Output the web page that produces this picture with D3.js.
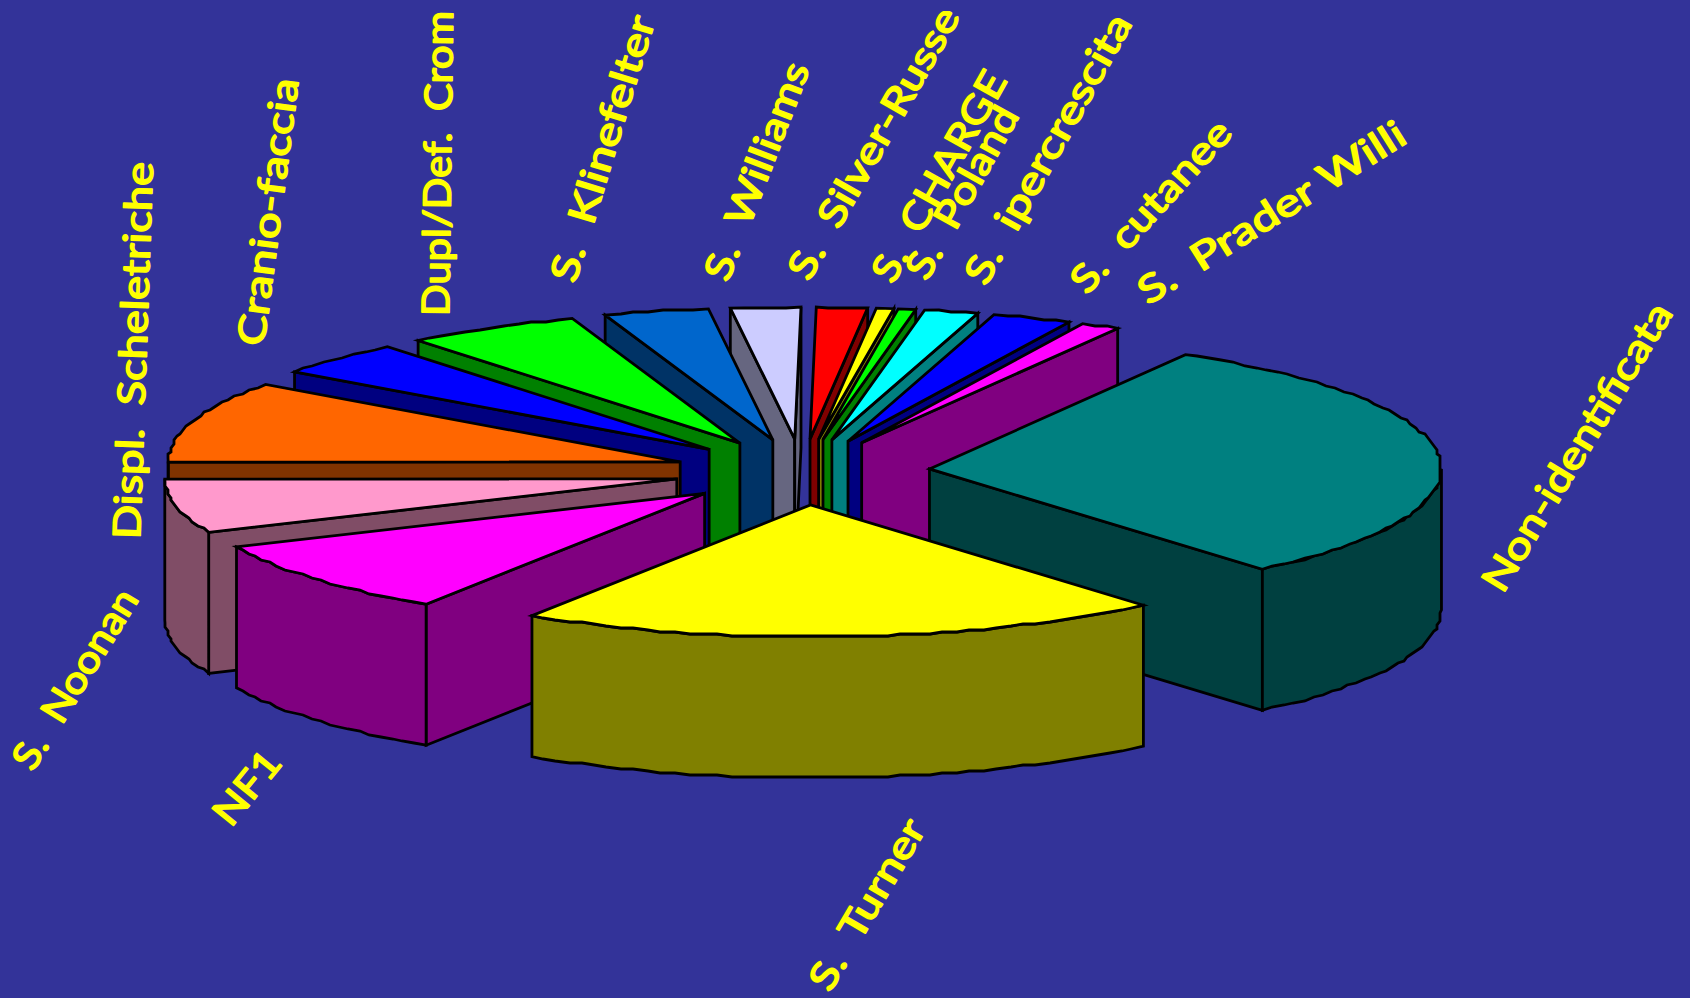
<!DOCTYPE html>
<html>
<head>
<meta charset="utf-8">
<script src="https://cdn.jsdelivr.net/npm/d3@7/dist/d3.min.js"></script>
<style>
  html, body { margin: 0; padding: 0; background: #333399; overflow: hidden; }
  svg { display: block; }
  text { white-space: pre; }
</style>
</head>
<body>
<svg id="chart" width="1690" height="998"></svg>
<script>
// Categories in clockwise order, starting at the largest slice.
const categories = [
  "Non-identificata", "S.  Turner", "NF1", "S.  Noonan", "Displ.  Scheletriche",
  "Cranio-faccia", "Dupl/Def.  Crom", "S.  Klinefelter", "S.  Williams",
  "S.  Silver-Russe", "S.  CHARGE", "S.  Poland", "S.  ipercrescita",
  "S.  cutanee", "S.  Prader Willi"
];
// Share of cases, percent.
const shares = [30.37, 20.4, 9.2, 6.6, 10.0, 4.2, 5.5, 3.3, 2.2, 1.6, 0.55, 0.55, 1.7, 2.5, 1.23];

const topColors = ["#008080", "#ffff00", "#ff00ff", "#ff99cc", "#ff6600", "#0000ff", "#00ff00",
  "#0066cc", "#ccccff", "#ff0000", "#ffff00", "#00ff00", "#00ffff", "#0000ff", "#ff00ff"];
const wallColors = ["#004040", "#808000", "#800080", "#804d66", "#803300", "#000080", "#008000",
  "#003366", "#666680", "#800000", "#808000", "#008000", "#008080", "#000080", "#800080"];

// Label baselines, running from first to last character: x1, y1, x2, y2.
const labelPaths = [
  [1490, 587, 1661, 305], [817, 986, 914, 821], [219, 819, 272, 754], [20, 765, 127, 591],
  [125, 539, 138, 162], [249, 345, 284, 78], [434, 316, 438, 11], [561, 280, 641, 16],
  [714, 278, 796, 63], [796, 275, 948, 9], [880, 278, 995, 73], [914, 275, 1007, 108],
  [973, 280, 1120, 16], [1076, 286, 1223, 124], [1140, 293, 1401, 129]
];

const width = 1690, height = 998;
const svg = d3.select("#chart");
svg.append("rect").attr("width", width).attr("height", height).attr("fill", "#333399");

// Tilted pie: a unit circle mapped onto an ellipse, extruded downward.
const cx = 802, cy = 472, depth = 141, explode = 0.25;
const sx = d3.scaleLinear().domain([-1, 1]).range([cx - 512, cx + 512]);
const sy = d3.scaleLinear().domain([-1, 1]).range([cy - 132, cy + 132]);

const startAngle = 30 * Math.PI / 180;
const arcs = d3.pie().sort(null).value(d => d)
  .startAngle(startAngle).endAngle(startAngle + 2 * Math.PI)(shares);

const line = d3.line();
const stepAngle = 1.6 * Math.PI / 180;
const snap = (v, g) => Math.round(v / g) * g;

function slicePaths(d) {
  const mid = (d.startAngle + d.endAngle) / 2;
  const ox = Math.sin(mid) * explode, oy = -Math.cos(mid) * explode;
  const at = a => [sx(ox + Math.sin(a)), sy(oy - Math.cos(a))];
  // Outer rim sampled coarsely on a small grid, giving a slightly rough edge.
  const rim = (a0, a1) => {
    const n = Math.max(1, Math.round((a1 - a0) / stepAngle));
    return d3.range(n + 1).map(i => {
      const p = at(a0 + (a1 - a0) * i / n);
      return (i === 0 || i === n) ? p : [snap(p[0], 3), snap(p[1], 2)];
    });
  };
  const down = p => [p[0], p[1] + depth];
  const apex = [sx(ox), sy(oy)];
  const radialWall = a => {
    const p = at(a);
    return line([apex, p, down(p), down(apex)]) + "Z";
  };
  const out = { top: line([apex, ...rim(d.startAngle, d.endAngle)]) + "Z", walls: [] };
  if (Math.sin(d.startAngle) < 0) out.walls.push(radialWall(d.startAngle));
  if (Math.sin(d.endAngle) > 0) out.walls.push(radialWall(d.endAngle));
  const a0 = Math.max(d.startAngle, Math.PI / 2), a1 = Math.min(d.endAngle, 3 * Math.PI / 2);
  if (a1 > a0) {
    const r = rim(a0, a1);
    out.walls.push(line([...r, ...r.slice().reverse().map(down)]) + "Z");
  }
  return out;
}

// Back slices are painted first so nearer ones cover them.
const order = arcs.slice().sort((a, b) =>
  -Math.cos((a.startAngle + a.endAngle) / 2) + Math.cos((b.startAngle + b.endAngle) / 2));

const slices = svg.append("g").attr("stroke", "#000").attr("stroke-width", 2.8)
  .attr("stroke-linejoin", "miter")
  .selectAll("g").data(order).join("g");

slices.each(function (d) {
  const g = d3.select(this), p = slicePaths(d);
  g.selectAll("path.wall").data(p.walls).join("path").attr("class", "wall")
    .attr("d", w => w).attr("fill", wallColors[d.index]);
  g.append("path").attr("d", p.top).attr("fill", topColors[d.index]);
});

// Labels stop at the top margin of the drawing area.
svg.append("clipPath").attr("id", "labelClip").append("rect")
  .attr("x", 0).attr("y", 11).attr("width", width).attr("height", height - 11);

svg.append("g").attr("clip-path", "url(#labelClip)")
  .selectAll("text").data(categories).join("text")
  .text(d => d)
  .attr("transform", (d, i) => {
    const [x1, y1, x2, y2] = labelPaths[i];
    return `translate(${x1},${y1}) rotate(${Math.atan2(y2 - y1, x2 - x1) * 180 / Math.PI})`;
  })
  .attr("textLength", (d, i) => {
    const [x1, y1, x2, y2] = labelPaths[i];
    return Math.hypot(x2 - x1, y2 - y1);
  })
  .attr("lengthAdjust", "spacingAndGlyphs")
  .attr("dominant-baseline", "central")
  .attr("font-family", "Lato, 'Open Sans', sans-serif")
  .attr("font-size", 38)
  .attr("fill", "#ffff00")
  .attr("stroke", "#ffff00")
  .attr("stroke-width", 1.6)
  .attr("stroke-linejoin", "round");
</script>
</body>
</html>
